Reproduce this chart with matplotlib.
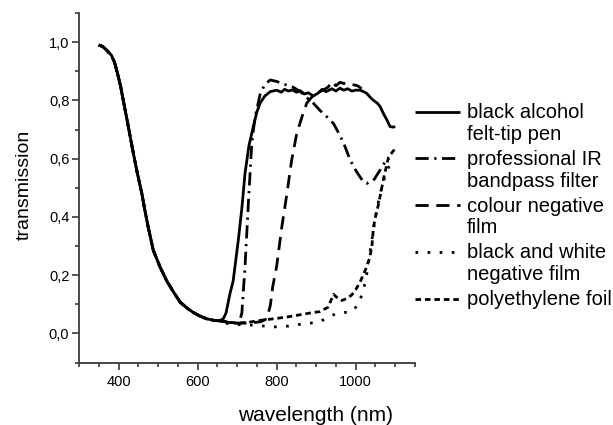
import matplotlib
matplotlib.use("Agg")
import matplotlib.pyplot as plt
from matplotlib.lines import Line2D
from matplotlib.ticker import MultipleLocator, FuncFormatter
import numpy as np

plt.rcParams['font.family'] = ['Liberation Sans', 'DejaVu Sans']
plt.rcParams['lines.scale_dashes'] = False

# Shared UV/visible decline (identical for all samples below ~655 nm)
uv_wl = [350, 360, 368, 375, 382, 390, 397, 405, 412, 422, 433, 446, 459, 467, 475,
         488, 505, 522, 540, 556, 575, 589, 605, 623, 640, 655]
uv_tr = [0.99, 0.985, 0.975, 0.965, 0.955, 0.93, 0.895, 0.85, 0.80, 0.73, 0.65, 0.56,
         0.48, 0.42, 0.365, 0.285, 0.228, 0.18, 0.14, 0.107, 0.085, 0.072, 0.06,
         0.05, 0.045, 0.043]

# black alcohol felt-tip pen
pen_wl = [665, 672, 682, 690, 703, 712, 720, 730, 741, 750, 758, 770, 784, 800, 812,
          820, 830, 840, 850, 860, 870, 880, 893, 905, 915, 925, 940, 950, 960, 970,
          980, 990, 1000, 1011, 1020, 1028, 1037, 1045, 1055, 1062, 1070, 1080, 1087,
          1095, 1100]
pen_tr = [0.05, 0.07, 0.137, 0.18, 0.32, 0.43, 0.55, 0.645, 0.71, 0.76, 0.79, 0.815,
          0.83, 0.835, 0.828, 0.838, 0.832, 0.836, 0.828, 0.833, 0.822, 0.826, 0.815,
          0.825, 0.838, 0.83, 0.84, 0.832, 0.842, 0.835, 0.84, 0.832, 0.835, 0.835,
          0.83, 0.824, 0.81, 0.80, 0.79, 0.778, 0.755, 0.73, 0.71, 0.708, 0.71]

# professional IR bandpass filter
ir_wl = [670, 690, 705, 712, 720, 729, 737, 745, 750, 758, 770, 784, 800, 820, 842,
         860, 876, 893, 910, 930, 944, 956, 969, 986, 1000, 1011, 1020, 1028, 1045,
         1066, 1075, 1085]
ir_tr = [0.04, 0.035, 0.035, 0.07, 0.23, 0.46, 0.65, 0.74, 0.77, 0.82, 0.855, 0.87,
         0.865, 0.855, 0.845, 0.83, 0.81, 0.79, 0.765, 0.74, 0.72, 0.69, 0.655, 0.595,
         0.56, 0.537, 0.52, 0.515, 0.525, 0.57, 0.59, 0.60]

# colour negative film
cn_wl = [670, 700, 730, 760, 775, 784, 790, 800, 813, 826, 838, 851, 864, 876, 893,
         910, 930, 940, 950, 960, 970, 980, 990, 1005, 1015]
cn_tr = [0.04, 0.035, 0.035, 0.04, 0.05, 0.096, 0.16, 0.23, 0.365, 0.48, 0.595, 0.687,
         0.743, 0.79, 0.818, 0.83, 0.845, 0.865, 0.85, 0.862, 0.858, 0.86, 0.855,
         0.85, 0.84]

# black and white negative film
bw_wl = [670, 700, 716, 754, 792, 830, 868, 906, 940, 957, 990, 1007, 1020, 1028,
         1035, 1042, 1050, 1060, 1072, 1083, 1095]
bw_tr = [0.035, 0.03, 0.03, 0.027, 0.022, 0.025, 0.033, 0.038, 0.062, 0.07, 0.074,
         0.10, 0.15, 0.205, 0.27, 0.33, 0.40, 0.47, 0.53, 0.57, 0.60]

# polyethylene foil
pe_wl = [670, 700, 733, 760, 792, 830, 851, 885, 910, 930, 944, 955, 965, 978, 990,
         1000, 1011, 1024, 1035, 1041, 1045, 1050, 1058, 1071, 1083, 1100]
pe_tr = [0.04, 0.035, 0.039, 0.045, 0.05, 0.057, 0.062, 0.07, 0.075, 0.09, 0.134,
         0.12, 0.113, 0.12, 0.132, 0.15, 0.176, 0.216, 0.257, 0.30, 0.365, 0.40,
         0.445, 0.535, 0.605, 0.635]

labels = [["black alcohol", "felt-tip pen"],
          ["professional IR", "bandpass filter"],
          ["colour negative", "film"],
          ["black and white", "negative film"],
          ["polyethylene foil"]]

x_ticks = [400, 600, 800, 1000]
y_ticks = [0.0, 0.2, 0.4, 0.6, 0.8, 1.0]

W, H = 613, 425
fig = plt.figure(figsize=(W / 100, H / 100), dpi=100)
ax = fig.add_axes([79 / W, 1 - 362.5 / H, 336 / W, 349.5 / H])

lw = 2.0
styles = [
    dict(linestyle='-'),
    dict(dashes=(9.5, 4.0, 1.6, 4.0)),
    dict(dashes=(9.5, 5.5)),
    dict(dashes=(1.9, 6.8)),
    dict(dashes=(4.0, 2.8)),
]
series = [(pen_wl, pen_tr), (ir_wl, ir_tr), (cn_wl, cn_tr), (bw_wl, bw_tr), (pe_wl, pe_tr)]

# draw from back to front so the solid curve sits on top
for (wl, tr), st in list(zip(series, styles))[::-1]:
    x = np.array(uv_wl + wl, dtype=float)
    y = np.array(uv_tr + tr, dtype=float)
    ax.plot(x, y, color='black', lw=lw, solid_capstyle='butt', dash_capstyle='butt', **st)

ax.set_xlim(300, 1150)
ax.set_ylim(-0.1, 1.1)
ax.set_xticks(x_ticks)
ax.set_yticks(y_ticks)
ax.xaxis.set_minor_locator(MultipleLocator(50))
ax.yaxis.set_minor_locator(MultipleLocator(0.1))
ax.yaxis.set_major_formatter(FuncFormatter(lambda v, p: f"{v:.1f}".replace('.', ',')))
ax.xaxis.set_major_formatter(FuncFormatter(lambda v, p: f"{v:.0f}"))

spine_col = '#3a3a3a'
for side in ['top', 'right']:
    ax.spines[side].set_visible(False)
for side in ['left', 'bottom']:
    ax.spines[side].set_color(spine_col)
    ax.spines[side].set_linewidth(1.3)
ax.tick_params(which='major', direction='out', length=5, width=1.2, color=spine_col,
               labelsize=10.5, labelcolor='black')
ax.tick_params(which='minor', direction='out', length=2.6, width=1.2, color=spine_col)
ax.tick_params(axis='y', which='major', pad=2)
ax.tick_params(axis='x', which='major', pad=4)

fig.text(316 / W, 1 - 421 / H, "wavelength (nm)", ha='center', va='baseline', fontsize=15)
fig.text(24 / W, 1 - 185 / H, "transmission", ha='center', va='center', rotation=90,
         fontsize=14)

# legend drawn entry by entry: handle next to the first text line
row0 = 111.7
row_step = 46.7
line_step = 21.7
for i, (lab, st) in enumerate(zip(labels, styles)):
    yc = row0 + i * row_step
    fig.add_artist(Line2D([415 / W, 460 / W], [1 - yc / H, 1 - yc / H],
                          transform=fig.transFigure, color='black', lw=lw,
                          solid_capstyle='butt', dash_capstyle='butt', **st))
    for j, txt in enumerate(lab):
        fig.text(467 / W, 1 - (yc + 6.6 + j * line_step) / H, txt, ha='left',
                 va='baseline', fontsize=14.5)

fig.savefig("out.png", dpi=100, facecolor='white')
